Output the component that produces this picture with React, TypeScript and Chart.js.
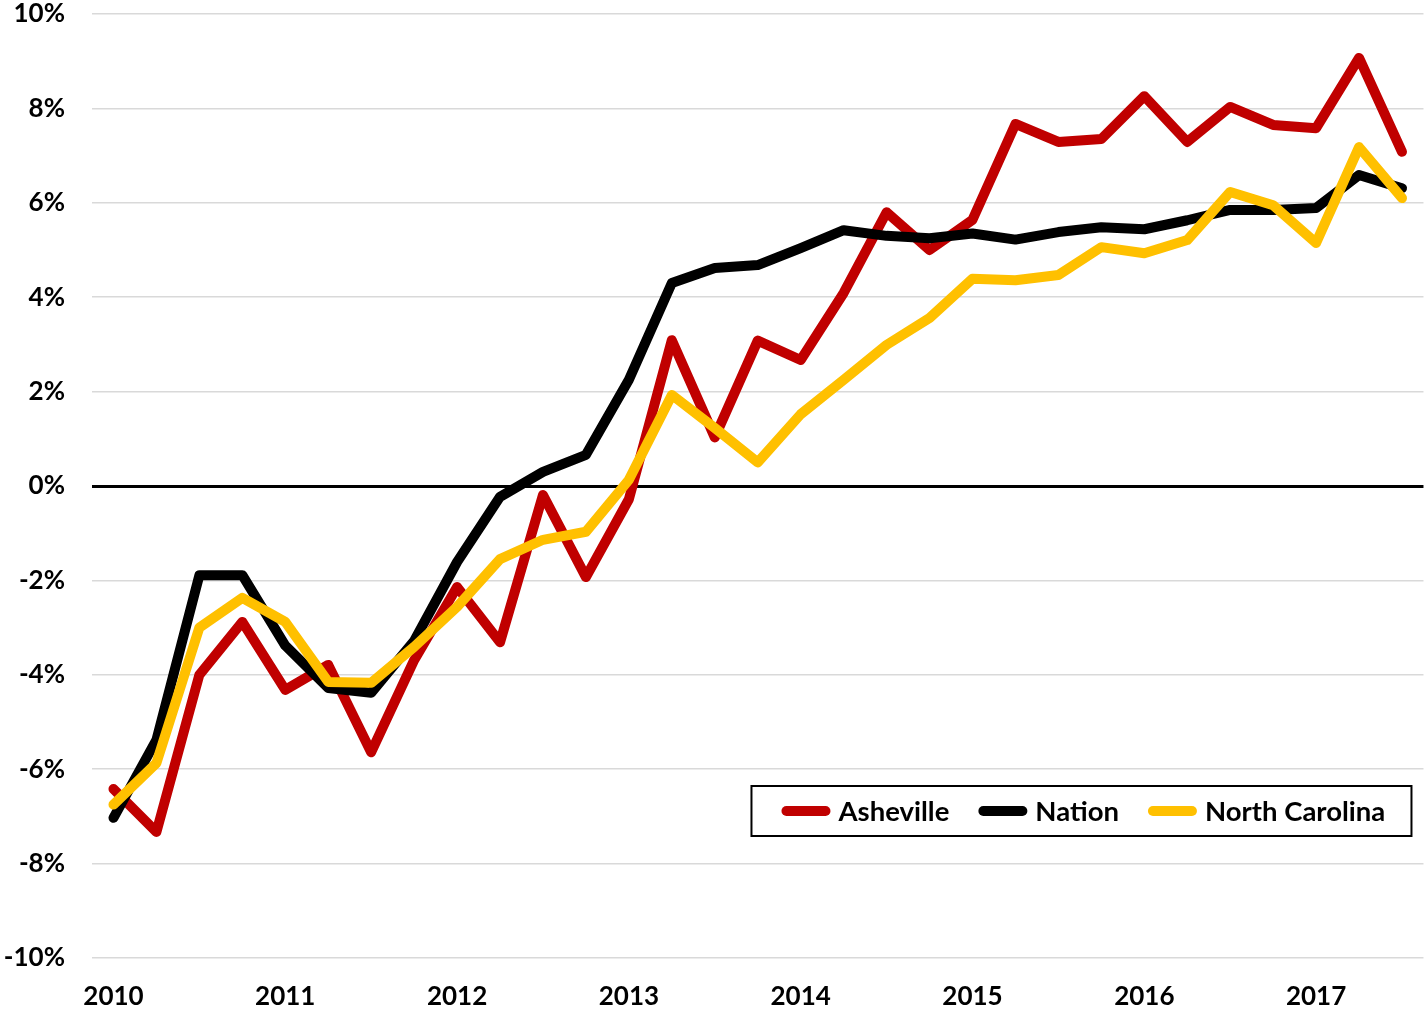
import React, { useEffect, useRef } from "react";
import { Chart, registerables } from "chart.js";

Chart.register(...registerables);

const quarters = [
  "2010Q1", "2010Q2", "2010Q3", "2010Q4",
  "2011Q1", "2011Q2", "2011Q3", "2011Q4",
  "2012Q1", "2012Q2", "2012Q3", "2012Q4",
  "2013Q1", "2013Q2", "2013Q3", "2013Q4",
  "2014Q1", "2014Q2", "2014Q3", "2014Q4",
  "2015Q1", "2015Q2", "2015Q3", "2015Q4",
  "2016Q1", "2016Q2", "2016Q3", "2016Q4",
  "2017Q1", "2017Q2", "2017Q3",
];

const asheville = [
  -6.42, -7.33, -4.0, -2.88, -4.32, -3.79, -5.64, -3.69,
  -2.14, -3.31, -0.19, -1.93, -0.28, 3.09, 1.03, 3.08,
  2.67, 4.09, 5.8, 5.0, 5.64, 7.67, 7.29, 7.35,
  8.26, 7.29, 8.03, 7.65, 7.58, 9.07, 7.08,
];

const nation = [
  -7.03, -5.38, -1.89, -1.89, -3.38, -4.28, -4.38, -3.28,
  -1.61, -0.23, 0.3, 0.66, 2.25, 4.3, 4.62, 4.68,
  5.04, 5.42, 5.3, 5.25, 5.35, 5.22, 5.38, 5.48,
  5.44, 5.63, 5.85, 5.85, 5.89, 6.59, 6.31,
];

const northCarolina = [
  -6.75, -5.87, -3.0, -2.37, -2.88, -4.15, -4.17, -3.41,
  -2.56, -1.55, -1.14, -0.97, 0.13, 1.93, 1.23, 0.5,
  1.52, 2.25, 2.99, 3.56, 4.39, 4.36, 4.47, 5.06,
  4.93, 5.21, 6.23, 5.95, 5.15, 7.18, 6.1,
];

const yMin = -10;
const yMax = 10;
const yStep = 2;

const legendOrder = ["Asheville", "Nation", "North Carolina"];

const FONT = "Lato, 'Open Sans', sans-serif";

const boxLegend = {
  id: "boxLegend",
  afterDraw(chart: any) {
    const { ctx, chartArea } = chart;
    const right = chartArea.right - 12;
    const left = right - 660;
    const top = chartArea.top + 772;
    const h = 50;
    ctx.save();
    ctx.fillStyle = "#ffffff";
    ctx.fillRect(left, top, right - left, h);
    ctx.strokeStyle = "#000000";
    ctx.lineWidth = 2;
    ctx.strokeRect(left, top, right - left, h);
    ctx.font = `bold 27.5px ${FONT}`;
    ctx.textBaseline = "middle";
    ctx.textAlign = "left";
    const cy = top + h / 2;
    let x = left + 30;
    legendOrder.forEach((name) => {
      const ds = chart.data.datasets.find((d: any) => d.label === name);
      ctx.strokeStyle = ds.borderColor;
      ctx.lineWidth = 10;
      ctx.lineCap = "round";
      ctx.beginPath();
      ctx.moveTo(x + 5, cy);
      ctx.lineTo(x + 44, cy);
      ctx.stroke();
      x += 57;
      ctx.fillStyle = "#000000";
      ctx.fillText(name, x, cy + 1);
      x += ctx.measureText(name).width + 29;
    });
    ctx.restore();
  },
};

export default function App() {
  const ref = useRef<HTMLCanvasElement | null>(null);

  useEffect(() => {
    if (!ref.current) return;
    const line = { borderWidth: 10, pointRadius: 0, tension: 0, borderCapStyle: "round", borderJoinStyle: "round", fill: false };
    const chart = new Chart(ref.current, {
      type: "line",
      data: {
        labels: quarters,
        datasets: [
          { ...line, label: "North Carolina", data: northCarolina, borderColor: "#FFC000", backgroundColor: "#FFC000", order: 1 },
          { ...line, label: "Nation", data: nation, borderColor: "#000000", backgroundColor: "#000000", order: 2 },
          { ...line, label: "Asheville", data: asheville, borderColor: "#C00000", backgroundColor: "#C00000", order: 3 },
        ],
      } as any,
      options: {
        animation: false,
        responsive: false,
        devicePixelRatio: 1,
        layout: { padding: { top: 0, right: 0, bottom: 0, left: 0 } },
        plugins: {
          legend: { display: false },
          tooltip: { enabled: false },
        },
        scales: {
          x: {
            offset: true,
            grid: { display: false, drawTicks: false },
            border: { display: false },
            ticks: {
              autoSkip: false,
              maxRotation: 0,
              minRotation: 0,
              padding: 23,
              color: "#000000",
              font: { family: FONT, size: 26, weight: "bold" },
              callback: (_v: any, i: number) => (i % 4 === 0 ? quarters[i].slice(0, 4) : ""),
            },
            afterFit: (s: any) => {
              s.height = 58;
            },
          },
          y: {
            min: yMin,
            max: yMax,
            ticks: {
              stepSize: yStep,
              padding: 27,
              color: "#000000",
              font: { family: FONT, size: 26, weight: "bold" },
              callback: (v: any) => `${v}%`,
            },
            grid: {
              drawTicks: false,
              color: (c: any) => (c.tick && c.tick.value === 0 ? "#000000" : "#D9D9D9"),
              lineWidth: (c: any) => (c.tick && c.tick.value === 0 ? 3 : 1.5),
            },
            border: { display: false },
            afterFit: (s: any) => {
              s.width = 92;
              s.paddingTop = 14;
              s.paddingBottom = 0;
            },
          },
        },
      } as any,
      plugins: [boxLegend],
    });
    return () => chart.destroy();
  }, []);

  return (
    <div style={{ position: "absolute", left: 0, top: 0, width: 1425, height: 1016, background: "#ffffff" }}>
      <canvas ref={ref} width={1425} height={1016} />
    </div>
  );
}
